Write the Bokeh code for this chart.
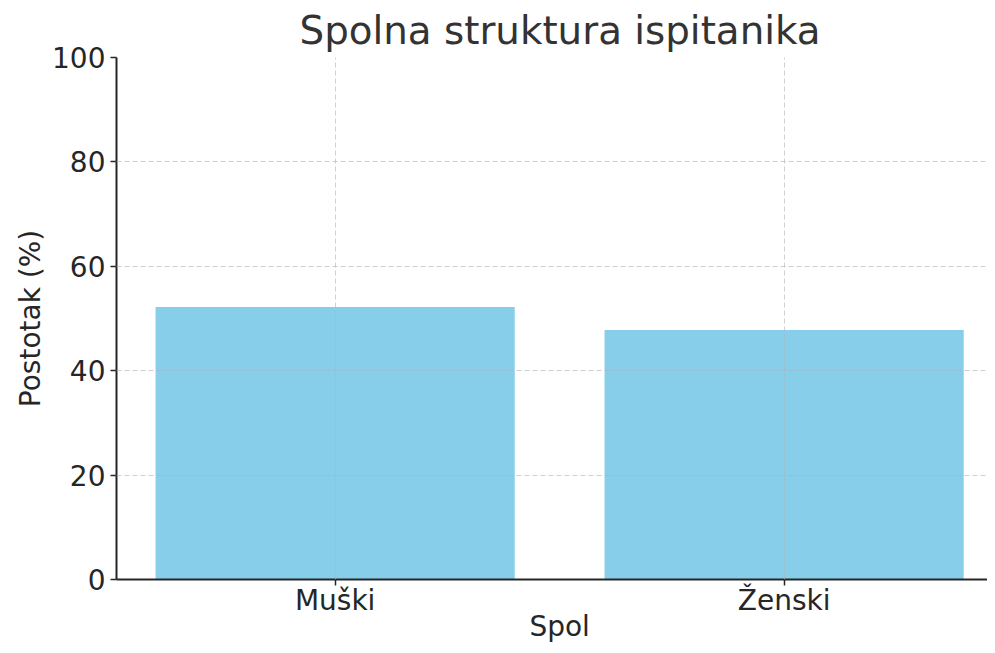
from bokeh.plotting import figure
from bokeh.models import Range1d, FixedTicker, ColumnDataSource, LinearAxis, CustomJSTickFormatter
from bokeh.embed import file_html
from bokeh.resources import INLINE

categories = ["Muški", "Ženski"]
values = [52.2, 47.8]
y_ticks = [0, 20, 40, 60, 80, 100]
x_label = "Spol"
y_label = "Postotak (%)"

x_pos = list(range(len(categories)))
source = ColumnDataSource(data=dict(x=x_pos, top=values, cat=categories))

p = figure(width=987, height=645, output_backend="svg", toolbar_location=None,
           x_range=Range1d(-0.487, 1.453), y_range=Range1d(0, 100),
           min_border_left=116, min_border_right=0, min_border_top=50, min_border_bottom=60)

p.vbar(x="x", top="top", width=0.8, bottom=0, source=source, color="#87CEEB", line_color=None)

FONT = "DejaVu Sans"
TXT = "#262626"

p.title.text = "Spolna struktura ispitanika"
p.title.align = "left"
p.title.offset = 183
p.title.text_font = FONT
p.title.text_font_size = "38.8px"
p.title.text_font_style = "normal"
p.title.text_color = "#333333"

p.outline_line_color = None
p.background_fill_color = "white"
p.border_fill_color = "white"

for ax in (p.xaxis[0], p.yaxis[0]):
    ax.axis_line_color = TXT
    ax.axis_line_width = 2
    ax.major_tick_line_color = TXT
    ax.major_tick_line_width = 1.5
    ax.major_tick_out = 6
    ax.major_tick_in = 0
    ax.minor_tick_line_color = None
    ax.major_label_text_font = FONT
    ax.major_label_text_font_size = "28px"
    ax.major_label_text_color = TXT
    ax.axis_label_text_font = FONT
    ax.axis_label_text_font_size = "28px"
    ax.axis_label_text_font_style = "normal"
    ax.axis_label_text_color = TXT

p.xaxis.ticker = FixedTicker(ticks=x_pos)
p.xaxis.major_label_overrides = {i: c for i, c in zip(x_pos, categories)}
p.xaxis.major_label_standoff = -2

p.yaxis.ticker = FixedTicker(ticks=y_ticks)
p.yaxis.axis_label = y_label
p.yaxis.major_label_standoff = 5
p.yaxis.axis_label_standoff = 2

# x axis title: a bare second axis with a single label centred between the categories
label_axis = LinearAxis(ticker=FixedTicker(ticks=[sum(x_pos) / len(x_pos)]),
                        formatter=CustomJSTickFormatter(args=dict(t=x_label), code="return t"))
label_axis.axis_line_color = None
label_axis.major_tick_line_color = None
label_axis.minor_tick_line_color = None
label_axis.major_tick_out = 0
label_axis.major_tick_in = 0
label_axis.major_label_standoff = -10
label_axis.major_label_text_font = FONT
label_axis.major_label_text_font_size = "28px"
label_axis.major_label_text_color = TXT
p.add_layout(label_axis, "below")

for g in (p.xgrid[0], p.ygrid[0]):
    g.grid_line_color = "#b0b0b0"
    g.grid_line_alpha = 0.6
    g.grid_line_dash = "5 3"
    g.grid_line_width = 1
    g.level = "overlay"
p.xgrid.ticker = FixedTicker(ticks=x_pos)
p.ygrid.ticker = FixedTicker(ticks=y_ticks)

open("out.html", "w").write(file_html(p, INLINE))
